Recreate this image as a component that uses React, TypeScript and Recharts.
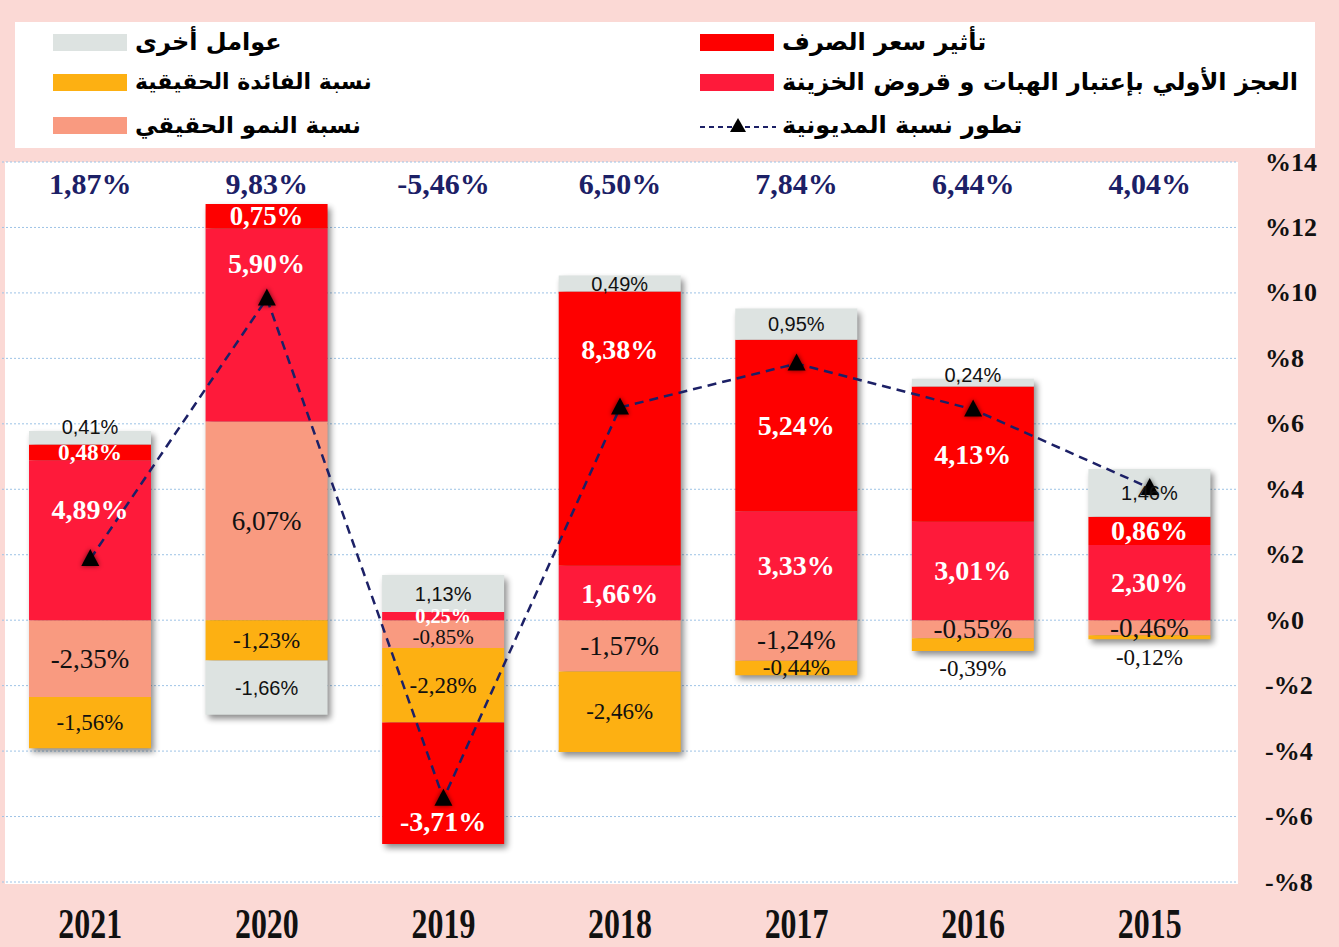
import React from "react";
import { ComposedChart, Bar, Line, XAxis, YAxis, CartesianGrid, LabelList } from "recharts";

const years = ["2021", "2020", "2019", "2018", "2017", "2016", "2015"];
const exchangeEffect = [0.48, 0.75, -3.71, 8.38, 5.24, 4.13, 0.86];
const primaryDeficit = [4.89, 5.9, 0.25, 1.66, 3.33, 3.01, 2.3];
const realGrowth = [-2.35, 6.07, -0.85, -1.57, -1.24, -0.55, -0.46];
const realInterest = [-1.56, -1.23, -2.28, -2.46, -0.44, -0.39, -0.12];
const otherFactors = [0.41, -1.66, 1.13, 0.49, 0.95, 0.24, 1.46];
const debtChange = [1.87, 9.83, -5.46, 6.5, 7.84, 6.44, 4.04];
const yTicks = [-8, -6, -4, -2, 0, 2, 4, 6, 8, 10, 12, 14];

const PINK = "#fbd9d5";
const NAVY = "#1c2066";
const SERIF = "'Liberation Serif', 'Times New Roman', serif";
const ARABIC = "'DejaVu Sans', sans-serif";

// stacking order (sign offset): growth, deficit, interest, exchange, other
const series = [
  { key: "growth", values: realGrowth, color: "#f99a80", kind: "growth" },
  { key: "deficit", values: primaryDeficit, color: "#fe1a3a", kind: "light" },
  { key: "interest", values: realInterest, color: "#fdb012", kind: "interest" },
  { key: "exchange", values: exchangeEffect, color: "#fe0000", kind: "light" },
  { key: "other", values: otherFactors, color: "#dde3e1", kind: "other" },
];

const data = years.map((year, i) => {
  const vals = series.map((s) => s.values[i]);
  const pos = vals.filter((v) => v > 0).reduce((a, b) => a + b, 0);
  const neg = vals.filter((v) => v < 0).reduce((a, b) => a + b, 0);
  return {
    year,
    growth: realGrowth[i],
    deficit: primaryDeficit[i],
    exchange: exchangeEffect[i],
    interest: realInterest[i],
    other: otherFactors[i],
    debt: debtChange[i],
    extent: [neg, pos],
  };
});

const fmt = (v: number) => v.toFixed(2).replace(".", ",") + "%";

function stackBase(si: number, i: number) {
  const v = series[si].values[i];
  let b = 0;
  for (let k = 0; k < si; k++) {
    const w = series[k].values[i];
    if (Math.sign(w) === Math.sign(v)) b += w;
  }
  return b;
}

function makeLabel(si: number) {
  return (props: any) => {
    const vb = props.viewBox && props.viewBox.width != null ? props.viewBox : props;
    const { x, y, width, height } = vb;
    const i = props.index;
    const v = series[si].values[i];
    if (!v || x == null) return null;
    const top = Math.min(y, y + height);
    const bottom = Math.max(y, y + height);
    const h = bottom - top;
    const ppu = h / Math.abs(v);
    const base = stackBase(si, i);
    const topVal = v > 0 ? base + v : base;
    const pix = (val: number) => top + (topVal - val) * ppu;
    const cx = x + width / 2;
    let labelVal = base + v / 2;
    const marker = debtChange[i];
    if (Math.abs(v) > 2 && Math.abs(labelVal - marker) < 1) {
      labelVal = (marker + base + v) / 2;
    }
    let cy = pix(labelVal);
    const kind = series[si].kind;
    let fill = "#111";
    let fontSize = 27;
    let fontWeight: any = "normal";
    let fontFamily = SERIF;
    if (kind === "light") {
      fill = "#fff";
      fontWeight = "bold";
      fontSize = Math.min(28, 17 + h * 0.4);
    } else if (kind === "growth") {
      // shrink when a thin positive slice sits right above zero
      const firstPos = series.map((s) => s.values[i]).find((w) => w > 0) || 0;
      if (v < 0 && firstPos * ppu < 10) {
        fontSize = 21;
        cy += 3;
      }
    } else if (kind === "interest") {
      fontSize = 23;
      if (h < 14) cy = bottom + 18;
    } else if (kind === "other") {
      fontSize = 20;
      fontFamily = "'Liberation Sans', Arial, sans-serif";
      if (v > 0 && h < 15) cy = top - 4;
    }
    return (
      <text
        x={cx}
        y={cy}
        textAnchor="middle"
        dominantBaseline="central"
        fill={fill}
        fontSize={fontSize}
        fontWeight={fontWeight}
        fontFamily={fontFamily}
      >
        {fmt(v)}
      </text>
    );
  };
}

const ShadowShape = (p: any) => {
  if (p.x == null) return null;
  const top = Math.min(p.y, p.y + p.height);
  const h = Math.abs(p.height);
  return <rect x={p.x + 3} y={top + 4} width={p.width} height={h} fill="#000" opacity={0.45} filter="url(#barShadow)" />;
};

const Triangle = (p: any) => {
  const { cx, cy } = p;
  if (cx == null || cy == null) return null;
  const d = `M${cx},${cy - 10} L${cx - 9},${cy + 7} L${cx + 9},${cy + 7} Z`;
  return (
    <g key={`tri-${p.index}`}>
      <path d={d} fill="#000" opacity={0.6} filter="url(#markerGlow)" />
      <path d={d} fill="#000" />
    </g>
  );
};

const YearTick = (p: any) => (
  <text
    transform={`translate(${p.x},${p.y + 56}) scale(0.76,1)`}
    textAnchor="middle"
    fontFamily={SERIF}
    fontWeight="bold"
    fontSize={42}
    fill="#111"
  >
    {p.payload.value}
  </text>
);

const TotalTick = (p: any) => (
  <text
    x={p.x}
    y={p.y + 32}
    textAnchor="middle"
    fontFamily={SERIF}
    fontWeight="bold"
    fontSize={30}
    fill={NAVY}
  >
    {fmt(debtChange[p.payload.index])}
  </text>
);

const PctTick = (p: any) => {
  const v = p.payload.value;
  return (
    <text
      x={p.x + 27}
      y={p.y}
      dominantBaseline="central"
      fontFamily={SERIF}
      fontWeight="bold"
      fontSize={26}
      fill="#111"
    >
      {v < 0 ? `-%${-v}` : `%${v}`}
    </text>
  );
};

const legendLeft = [
  { label: "عوامل أخرى", color: "#dde3e1", size: 24 },
  { label: "نسبة الفائدة الحقيقية", color: "#fdb012", size: 22 },
  { label: "نسبة النمو الحقيقي", color: "#f99a80", size: 23 },
];
const legendRight = [
  { label: "تأثير سعر الصرف", color: "#fe0000", size: 24 },
  { label: "العجز الأولي بإعتبار الهبات و قروض الخزينة", color: "#fe1a3a", size: 24 },
  { label: "تطور نسبة المديونية", color: "", size: 24 },
];
const rowCenters = [42, 82, 125];

function LegendItem({ left, top, label, color, size }: { left: number; top: number; label: string; color: string; size: number }) {
  return (
    <>
      {color ? (
        <div style={{ position: "absolute", left, top: top - 8, width: 74, height: 17, background: color }} />
      ) : (
        <svg style={{ position: "absolute", left, top: top - 10 }} width={76} height={20}>
          <line x1={0} y1={12} x2={76} y2={12} stroke={NAVY} strokeWidth={2} strokeDasharray="5 4" />
          <path d="M38,3 L30,17 L46,17 Z" fill="#000" />
        </svg>
      )}
      <div
        style={{
          position: "absolute",
          left: left + 82,
          top: top - 17,
          height: 34,
          lineHeight: "34px",
          direction: "rtl",
          whiteSpace: "nowrap",
          fontFamily: ARABIC,
          fontWeight: "bold",
          fontSize: size,
          color: "#000",
        }}
      >
        {label}
      </div>
    </>
  );
}

export default function App() {
  return (
    <div style={{ position: "absolute", left: 0, top: 0, width: 1339, height: 947, background: PINK, overflow: "hidden" }}>
      <div style={{ position: "absolute", left: 15, top: 22, width: 1300, height: 126, background: "#fff" }} />
      <div style={{ position: "absolute", left: 5, top: 162, width: 1233, height: 722, background: "#fff" }} />
      {legendLeft.map((it, k) => (
        <LegendItem key={it.label} left={53} top={rowCenters[k]} label={it.label} color={it.color} size={it.size} />
      ))}
      {legendRight.map((it, k) => (
        <LegendItem key={it.label} left={700} top={rowCenters[k]} label={it.label} color={it.color} size={it.size} />
      ))}
      <div style={{ position: "absolute", left: 0, top: 0 }}>
        <ComposedChart
          width={1339}
          height={947}
          data={data}
          stackOffset="sign"
          margin={{ top: 161, right: 0, bottom: 0, left: 2 }}
        >
          <defs>
            <filter id="barShadow" x="-20%" y="-20%" width="140%" height="140%">
              <feGaussianBlur stdDeviation="3" />
            </filter>
            <filter id="markerGlow" x="-50%" y="-50%" width="200%" height="200%">
              <feGaussianBlur stdDeviation="2.5" />
            </filter>
          </defs>
          <CartesianGrid vertical={false} stroke="#9dc3e6" strokeDasharray="2 2" />
          <XAxis dataKey="year" height={65} axisLine={false} tickLine={false} tickSize={0} tickMargin={0} tick={<YearTick />} interval={0} />
          <XAxis xAxisId="top" dataKey="year" orientation="top" height={1} axisLine={false} tickLine={false} tickSize={0} tickMargin={0} tick={<TotalTick />} interval={0} />
          <XAxis xAxisId="shadow" dataKey="year" hide />
          <YAxis
            orientation="right"
            width={101}
            domain={[-8, 14]}
            ticks={yTicks}
            axisLine={false}
            tickLine={false}
            tickSize={0}
            tickMargin={0}
            tick={<PctTick />}
            interval={0}
          />
          <Bar xAxisId="shadow" dataKey="extent" barSize={122} shape={<ShadowShape />} isAnimationActive={false} />
          {series.map((s, si) => (
            <Bar key={s.key} dataKey={s.key} stackId="a" fill={s.color} barSize={122} isAnimationActive={false}>
              <LabelList dataKey={s.key} content={makeLabel(si)} />
            </Bar>
          ))}
          <Line
            xAxisId="top"
            type="linear"
            dataKey="debt"
            stroke={NAVY}
            strokeWidth={2.5}
            strokeDasharray="9 6"
            dot={<Triangle />}
            activeDot={false}
            isAnimationActive={false}
          />
        </ComposedChart>
      </div>
    </div>
  );
}
